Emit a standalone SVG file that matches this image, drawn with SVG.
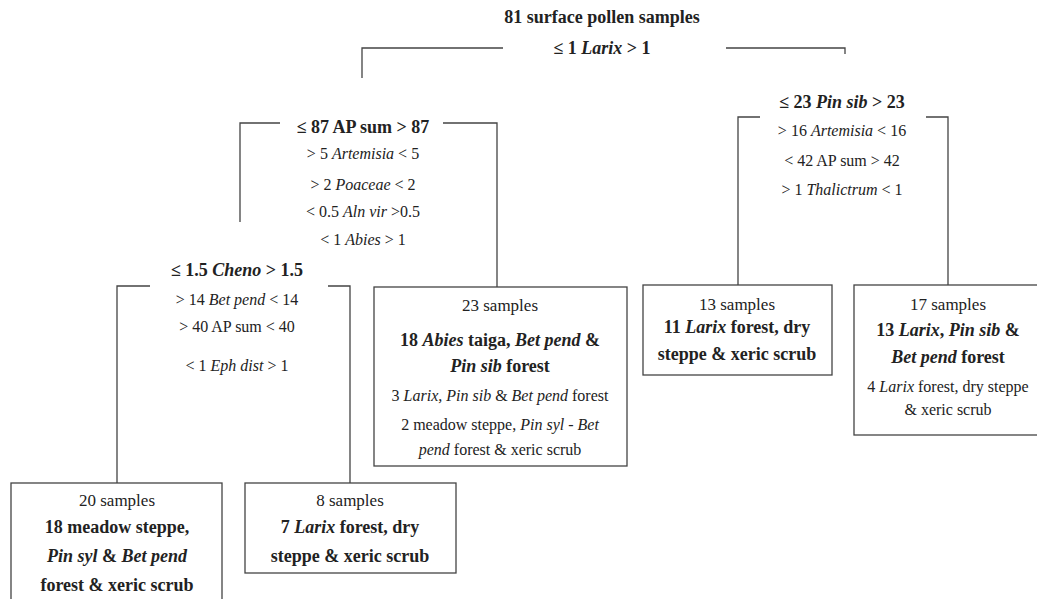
<svg xmlns="http://www.w3.org/2000/svg" width="1037" height="599" viewBox="0 0 1037 599" font-family="Liberation Serif, Times New Roman, serif">
<style>
text{fill:#222;text-anchor:middle}
.b{font-weight:bold;font-size:18px}
.r{font-size:16px}
.s{font-size:17px}
.i{font-style:italic}
.ln{fill:none;stroke:#444;stroke-width:1.3}
.box{fill:#fff;stroke:#444;stroke-width:1.3}
</style>
<rect width="1037" height="599" fill="#fff"/>
<g id="connectors">
<path class="ln" d="M362,78 V48 H503 M726,48 H845 V54"/>
<path class="ln" d="M240,222 V123 H280 M443,123 H497 V287"/>
<path class="ln" d="M738,285 V117 H760 M926,117 H948 V285"/>
<path class="ln" d="M117,483 V286 H150 M328,286 H350 V483"/>
</g>
<g id="root">
<text class="b" x="602" y="23">81 surface pollen samples</text>
<text class="b" x="602" y="54">≤ 1 <tspan class="i">Larix</tspan> &gt; 1</text>
</g>
<g id="split-ap">
<text class="b" x="363" y="133">≤ 87 AP sum &gt; 87</text>
<text class="r" x="363" y="159">&gt; 5 <tspan class="i">Artemisia</tspan> &lt; 5</text>
<text class="r" x="363" y="190">&gt; 2 <tspan class="i">Poaceae</tspan> &lt; 2</text>
<text class="r" x="363" y="217">&lt; 0.5 <tspan class="i">Aln vir</tspan> &gt;0.5</text>
<text class="r" x="363" y="245">&lt; 1 <tspan class="i">Abies</tspan> &gt; 1</text>
</g>
<g id="split-pinsib">
<text class="b" x="842" y="108">≤ 23 <tspan class="i">Pin sib</tspan> &gt; 23</text>
<text class="r" x="842" y="136">&gt; 16 <tspan class="i">Artemisia</tspan> &lt; 16</text>
<text class="r" x="842" y="166">&lt; 42 AP sum &gt; 42</text>
<text class="r" x="842" y="195">&gt; 1 <tspan class="i">Thalictrum</tspan> &lt; 1</text>
</g>
<g id="split-cheno">
<text class="b" x="237" y="276">≤ 1.5 <tspan class="i">Cheno</tspan> &gt; 1.5</text>
<text class="r" x="237" y="305">&gt; 14 <tspan class="i">Bet pend</tspan> &lt; 14</text>
<text class="r" x="237" y="332">&gt; 40 AP sum &lt; 40</text>
<text class="r" x="237" y="371">&lt; 1 <tspan class="i">Eph dist</tspan> &gt; 1</text>
</g>
<g id="node-23">
<rect class="box" x="374" y="287" width="253" height="179"/>
<text class="s" x="500" y="311">23 samples</text>
<text class="b" x="500" y="346">18 <tspan class="i">Abies</tspan> taiga, <tspan class="i">Bet pend</tspan> &amp;</text>
<text class="b" x="500" y="372"><tspan class="i">Pin sib</tspan> forest</text>
<text class="r" x="500" y="401">3 <tspan class="i">Larix, Pin sib</tspan> &amp; <tspan class="i">Bet pend</tspan> forest</text>
<text class="r" x="500" y="430">2 meadow steppe, <tspan class="i">Pin syl - Bet</tspan></text>
<text class="r" x="500" y="455"><tspan class="i">pend</tspan> forest &amp; xeric scrub</text>
</g>
<g id="node-13">
<rect class="box" x="643" y="285" width="189" height="90"/>
<text class="s" x="737" y="310">13 samples</text>
<text class="b" x="737" y="333">11 <tspan class="i">Larix</tspan> forest, dry</text>
<text class="b" x="737" y="360">steppe &amp; xeric scrub</text>
</g>
<g id="node-17">
<rect class="box" x="854" y="285" width="190" height="150"/>
<text class="s" x="948" y="310">17 samples</text>
<text class="b" x="948" y="336">13 <tspan class="i">Larix</tspan>, <tspan class="i">Pin sib</tspan> &amp;</text>
<text class="b" x="948" y="363"><tspan class="i">Bet pend</tspan> forest</text>
<text class="r" x="948" y="392">4 <tspan class="i">Larix</tspan> forest, dry steppe</text>
<text class="r" x="948" y="415">&amp; xeric scrub</text>
</g>
<g id="node-20">
<rect class="box" x="11" y="483" width="211" height="130"/>
<text class="s" x="117" y="506">20 samples</text>
<text class="b" x="117" y="533">18 meadow steppe,</text>
<text class="b" x="117" y="562"><tspan class="i">Pin syl</tspan> &amp; <tspan class="i">Bet pend</tspan></text>
<text class="b" x="117" y="591">forest &amp; xeric scrub</text>
</g>
<g id="node-8">
<rect class="box" x="245" y="483" width="211" height="90"/>
<text class="s" x="350" y="506">8 samples</text>
<text class="b" x="350" y="533">7 <tspan class="i">Larix</tspan> forest, dry</text>
<text class="b" x="350" y="562">steppe &amp; xeric scrub</text>
</g>
</svg>
